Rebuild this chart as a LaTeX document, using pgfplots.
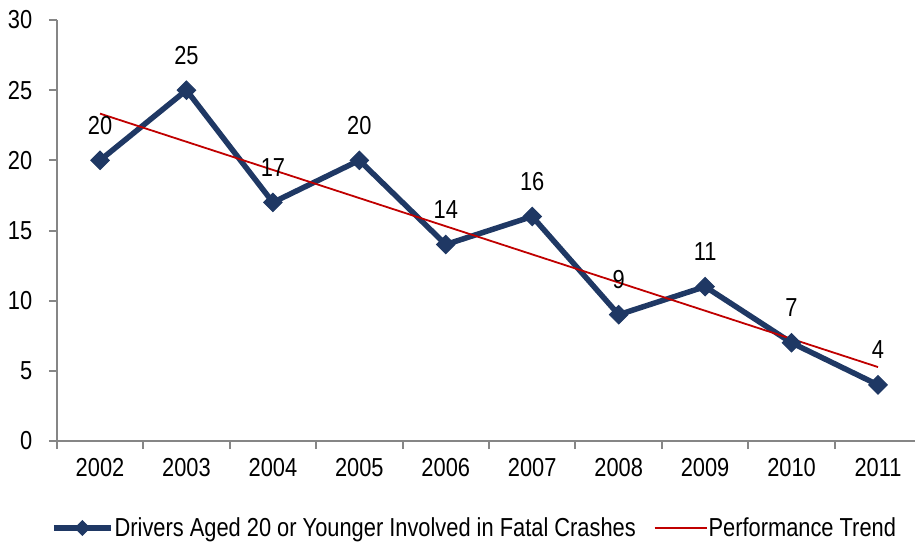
\documentclass[border=0pt]{standalone}
\usepackage{fontspec}
\setmainfont{Liberation Sans}[FakeStretch=0.84]
\usepackage{pgfplots}
\pgfplotsset{compat=1.18}
\definecolor{navy}{RGB}{31,56,100}
\definecolor{trend}{RGB}{192,0,0}
\definecolor{axgray}{RGB}{134,134,134}
\newcommand{\ff}{\fontsize{26}{30}\selectfont}
\pgfplotsset{
  navylegend/.style={legend image code/.code={\draw[mark repeat=2,mark phase=2,##1, mark size=5.2pt] plot coordinates {(0pt,0pt) (28.5pt,0pt) (57pt,0pt)};}},
  redlegend/.style={legend image code/.code={\draw[##1] (0pt,0pt) -- (52pt,0pt);}},
}
\begin{document}
\begin{tikzpicture}
\begin{axis}[
  at={(56.8pt,103pt)}, anchor=south west,
  scale only axis, width=864.4pt, height=421pt,
  xmin=-0.5, xmax=9.5, ymin=0, ymax=30,
  axis x line*=bottom, axis y line*=left,
  axis line style={axgray, line width=2pt, -},
  tick align=outside, major tick length=8pt,
  tick style={axgray, line width=2pt},
  /pgf/number format/assume math mode=true,
  xtick={-0.5,0.5,...,9.5}, xticklabels={},
  extra x ticks={0,1,2,3,4,5,6,7,8,9},
  extra x tick labels={2002,2003,2004,2005,2006,2007,2008,2009,2010,2011},
  extra x tick style={major tick length=0pt},
  xticklabel style={font=\ff, text=black, yshift=-14pt},
  ytick={0,5,10,15,20,25,30},
  yticklabel style={font=\ff, text=black, xshift=-13pt},
  legend columns=-1,
  legend style={at={(0.4827,-0.2067)}, anchor=center, draw=none, fill=none,
    font=\ff, nodes={inner sep=1pt},
    /tikz/every even column/.append style={column sep=17pt}},
  clip=false,
]
\addplot[navy, line width=5.5pt, mark=square*, mark size=6.5pt,
  mark options={solid, rotate=45, line width=1pt},
  nodes near coords,
  every node near coord/.append style={font=\ff, text=black, anchor=center, yshift=35pt},
  navylegend
] coordinates {
  (0,20) (1,25) (2,17) (3,20) (4,14) (5,16) (6,9) (7,11) (8,7) (9,4)
};
\addlegendentry{Drivers Aged 20 or Younger Involved in Fatal Crashes}
\addplot[trend, line width=1.8pt, no marks, redlegend] coordinates {
  (0,23.33) (9,5.27)
};
\addlegendentry{Performance Trend}
\end{axis}
\pgfresetboundingbox
\useasboundingbox (0,0) rectangle (915pt,544pt);
\end{tikzpicture}
\end{document}
